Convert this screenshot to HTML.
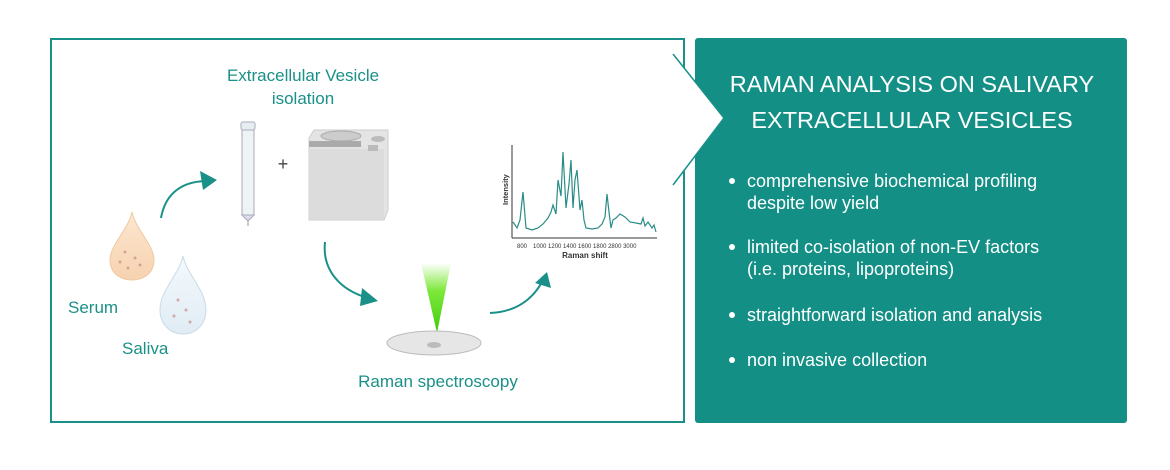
<!DOCTYPE html>
<html><head><meta charset="utf-8"><style>
body{margin:0;background:#fff;width:1170px;height:465px;overflow:hidden;font-family:"Liberation Sans",sans-serif}
</style></head><body>
<svg width="1170" height="465" viewBox="0 0 1170 465" xmlns="http://www.w3.org/2000/svg" font-family="Liberation Sans, sans-serif">
<defs>
<linearGradient id="beam" x1="0" y1="0" x2="0" y2="1"><stop offset="0" stop-color="#fff"/><stop offset="0.4" stop-color="#7ee83a"/><stop offset="1" stop-color="#3fcc10"/></linearGradient>
<linearGradient id="ser" x1="0" y1="0" x2="0" y2="1"><stop offset="0" stop-color="#fde7cf"/><stop offset="1" stop-color="#f6d2b0"/></linearGradient>
<linearGradient id="sal" x1="0" y1="0" x2="0" y2="1"><stop offset="0" stop-color="#f4f9fc"/><stop offset="1" stop-color="#e0ecf4"/></linearGradient>
</defs>
<rect x="51" y="39" width="633" height="383" fill="#fff" stroke="#1a9088" stroke-width="2"/>
<rect x="695" y="38" width="432" height="385" rx="3" fill="#138f86"/>
<polygon points="673,54 724,118 673,185 673,54" fill="#fff"/>
<polyline points="673,54 724,118 673,185" fill="none" stroke="#1a9088" stroke-width="1.5"/>
<text x="912" y="92" fill="#fff" font-size="23.5" text-anchor="middle">RAMAN ANALYSIS ON SALIVARY</text>
<text x="912" y="128" fill="#fff" font-size="23.5" text-anchor="middle">EXTRACELLULAR VESICLES</text>
<g fill="#fff" font-size="18">
<circle cx="732" cy="181" r="3"/><text x="747" y="187">comprehensive biochemical profiling</text><text x="747" y="209">despite low yield</text>
<circle cx="732" cy="247" r="3"/><text x="747" y="253">limited co-isolation of non-EV factors</text><text x="747" y="275">(i.e. proteins, lipoproteins)</text>
<circle cx="732" cy="315" r="3"/><text x="747" y="321">straightforward isolation and analysis</text>
<circle cx="732" cy="360" r="3"/><text x="747" y="366">non invasive collection</text>
</g>
<g fill="#1a9088" font-size="17">
<text x="303" y="81" text-anchor="middle">Extracellular Vesicle</text>
<text x="303" y="104" text-anchor="middle">isolation</text>
<text x="68" y="313">Serum</text>
<text x="122" y="354">Saliva</text>
<text x="438" y="387" text-anchor="middle">Raman spectroscopy</text>
</g>
<path d="M132,212 C128,230 110,245 110,260 C110,273 120,280 132,280 C144,280 154,273 154,260 C154,245 136,230 132,212Z" fill="url(#ser)" stroke="#f0c9a0"/>
<path d="M183,256 C179,275 160,290 160,310 C160,324 170,334 183,334 C196,334 206,324 206,310 C206,290 187,275 183,256Z" fill="url(#sal)" stroke="#c9dbe6"/>
<g fill="#c98a8a" opacity=".7"><circle cx="125" cy="252" r="1.5"/><circle cx="135" cy="258" r="1.5"/><circle cx="140" cy="265" r="1.5"/><circle cx="128" cy="268" r="1.5"/><circle cx="120" cy="262" r="1.5"/><circle cx="178" cy="300" r="1.5"/><circle cx="186" cy="310" r="1.5"/><circle cx="174" cy="316" r="1.5"/><circle cx="190" cy="322" r="1.5"/></g>
<rect x="241" y="122" width="14" height="8" rx="2" fill="#e6eef2" stroke="#aab"/>
<rect x="242" y="130" width="12" height="85" fill="#eef3f6" stroke="#aab"/>
<path d="M242,215 L248,221 L254,215Z" fill="#dde" stroke="#aab"/>
<line x1="248" y1="221" x2="248" y2="226" stroke="#999"/>
<text x="283" y="170" font-size="18" fill="#444" text-anchor="middle">+</text>
<path d="M309,138 L314,130 L388,130 L388,210 L384,220 L309,220Z" fill="#e4e4e4" stroke="#ccc"/>
<rect x="309" y="149" width="75" height="70" fill="#dcdcdc"/>
<rect x="309" y="141" width="52" height="6" fill="#aaa"/>
<ellipse cx="341" cy="136" rx="20" ry="5" fill="#ccc" stroke="#aaa"/>
<ellipse cx="378" cy="139" rx="7" ry="3" fill="#bbb"/>
<rect x="368" y="145" width="10" height="6" fill="#bbb"/>
<g fill="none" stroke="#1a9088" stroke-width="2">
<path d="M161,218 C165,195 180,182 205,181"/>
<path d="M325,242 C322,270 340,290 368,298"/>
<path d="M490,313 C515,312 532,300 542,282"/>
</g>
<g fill="#1a9088">
<polygon points="217,180 200,171 203,190"/>
<polygon points="378,301 362,288 360,306"/>
<polygon points="547,272 535,283 551,288"/>
</g>
<polygon points="421,263 451,263 437,333" fill="url(#beam)"/>
<ellipse cx="434" cy="343" rx="47" ry="12" fill="#e6e6e6" stroke="#bbb"/>
<ellipse cx="434" cy="345" rx="7" ry="3" fill="#bbb"/>
<g stroke="#333" stroke-width="1"><line x1="512" y1="145" x2="512" y2="238"/><line x1="512" y1="238" x2="657" y2="238"/></g>
<polyline fill="none" stroke="#2a8c86" stroke-width="1.2" points="513,222 517,228 520,220 523,192 526,228 532,230 538,228 543,224 548,218 551,212 553,205 556,214 558,180 561,196 563,152 566,208 569,184 571,160 573,208 575,180 577,170 580,210 582,200 584,220 586,228 592,229 598,228 602,224 605,217 607,194 609,212 611,228 613,220 616,218 620,214 625,217 630,222 636,223 641,224 643,218 645,226 648,222 652,228 654,225 656,232"/>
<g font-size="6" fill="#333"><text x="517" y="248">800</text><text x="533" y="248">1000 1200 1400 1600 1800 2800 3000</text></g>
<text x="585" y="258" font-size="8" font-weight="bold" fill="#333" text-anchor="middle">Raman shift</text>
<text transform="translate(508,205) rotate(-90)" font-size="7.5" font-weight="bold" fill="#333">Intensity</text>
</svg>
</body></html>
